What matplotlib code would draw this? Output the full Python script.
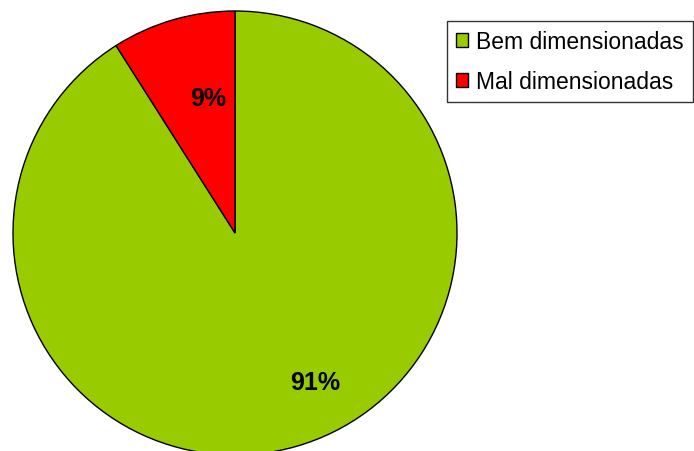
import matplotlib
matplotlib.use('Agg')
import matplotlib.pyplot as plt

labels = ['Bem dimensionadas', 'Mal dimensionadas']
values = [91, 9]
colors = ['#99cc00', '#ff0000']

plt.rcParams['font.family'] = ['Liberation Sans', 'DejaVu Sans']

W, H = 694, 452
fig = plt.figure(figsize=(W / 100, H / 100), dpi=100)

# pie centre ~ (235, 234) px, radius ~222 px
cx, cy, r = 235, 234, 222
ax = fig.add_axes([(cx - r) / W, (H - cy - r) / H, 2 * r / W, 2 * r / H])

wedges, texts, autotexts = ax.pie(
    values, colors=colors, startangle=90, counterclock=False,
    autopct='%1.0f%%', pctdistance=0.7,
    wedgeprops=dict(edgecolor='black', linewidth=1.0),
    textprops=dict(fontsize=18, fontweight='bold', color='black'),
)
# put the percentages where the original has them
autotexts[0].set_position((0.36, -0.67))
autotexts[1].set_position((-0.12, 0.61))

ax.set_xlim(-1, 1)
ax.set_ylim(-1, 1)
ax.set_aspect('equal')
ax.axis('off')

leg = fig.legend(wedges, labels, loc='upper left',
                 bbox_to_anchor=(447 / W, 1 - 22 / H), bbox_transform=fig.transFigure,
                 borderaxespad=0, fontsize=16.5, frameon=True, fancybox=False,
                 handlelength=0.55, handleheight=0.55, handletextpad=0.35,
                 labelspacing=0.75, borderpad=0.38)
leg.get_frame().set_edgecolor('black')
leg.get_frame().set_linewidth(1.0)

fig.savefig('out.png', dpi=100)
